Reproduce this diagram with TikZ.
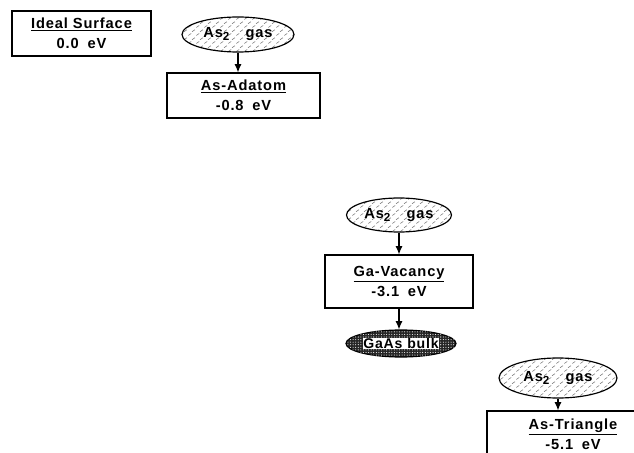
\documentclass[tikz,border=0pt]{standalone}
\usepackage{fontspec}
\setmainfont{Liberation Sans}[LetterSpace=6]
\usetikzlibrary{shapes.geometric,patterns.meta,arrows.meta}

\tikzdeclarepattern{name=gasdash, type=uncolored,
  bounding box={(0pt,0pt) and (7pt,7pt)}, tile size={(7pt,7pt)},
  code={\draw[line width=0.5pt] (0.3pt,0.5pt) -- (3pt,2.3pt) (3.8pt,4pt) -- (6.5pt,5.8pt);}}

\tikzset{
  box/.style={draw, line width=1pt, align=center, inner sep=0pt,
    font=\bfseries\fontsize{12.5}{17}\selectfont},
  gas/.style={draw, line width=1pt, ellipse, inner sep=0pt,
    pattern=gasdash, pattern color=black!55,
    font=\bfseries\fontsize{12.5}{14}\selectfont},
  bulk/.style={draw, line width=1pt, ellipse, inner sep=0pt, fill=black!85,
    postaction={pattern={Dots[distance=2.2pt,radius=0.45pt]}, pattern color=white}}
}
\newcommand{\astwo}{As\raisebox{-0.35ex}{\fontsize{10}{10}\selectfont 2}\hspace{1.1em}gas}

\begin{document}
\begin{tikzpicture}[x=0.03cm, y=-0.03cm, >={Latex[length=7pt,width=6pt]}]
\useasboundingbox (0,0) rectangle (634,453);
\clip (0,0) rectangle (634,453);

\coordinate (C0) at (81.5, 33.5) ;
\coordinate (C1) at (238, 34.5) ;
\coordinate (C2) at (243.5, 95.5) ;
\coordinate (C3) at (399, 215) ;
\coordinate (C4) at (399, 281.5) ;
\coordinate (C5) at (401, 343.5) ;
\coordinate (C6) at (558, 378) ;
\coordinate (C7) at (573, 434.5) ;

\node[box, minimum width=4.17cm, minimum height=1.35cm] (ideal) at (C0) {\underline{Ideal Surface}\\0.0\hspace{0.6em}eV};
\node[gas, minimum width=3.36cm, minimum height=1.05cm] (gas1) at (C1) {\astwo};
\node[box, minimum width=4.59cm, minimum height=1.35cm] (adatom) at (C2) {\underline{As-Adatom}\\-0.8\hspace{0.6em}eV};

\node[gas, minimum width=3.15cm, minimum height=1.02cm] (gas2) at (C3) {\astwo};
\node[box, minimum width=4.44cm, minimum height=1.59cm] (vacancy) at (C4) {\underline{Ga-Vacancy}\\-3.1\hspace{0.6em}eV};
\node[bulk, minimum width=3.3cm, minimum height=0.81cm,
  label={[fill=white, inner sep=0.5pt, font=\bfseries\fontsize{12}{14}\selectfont]center:GaAs bulk}] (bulk) at (C5) {};

\node[gas, minimum width=3.54cm, minimum height=1.2cm] (gas3) at (C6) {\astwo};
\node[box, minimum width=5.16cm, minimum height=1.41cm] (triangle) at (C7) {\underline{As-Triangle}\\-5.1\hspace{0.6em}eV};

\draw [line width=1pt, ->] (gas1.south) -- (gas1.south |- adatom.north);
\draw [line width=1pt, ->] (gas2.south) -- (gas2.south |- vacancy.north);
\draw [line width=1pt, ->] (vacancy.south) -- (vacancy.south |- bulk.north);
\draw [line width=1pt, ->] (gas3.south) -- (gas3.south |- triangle.north);
\end{tikzpicture}
\end{document}
